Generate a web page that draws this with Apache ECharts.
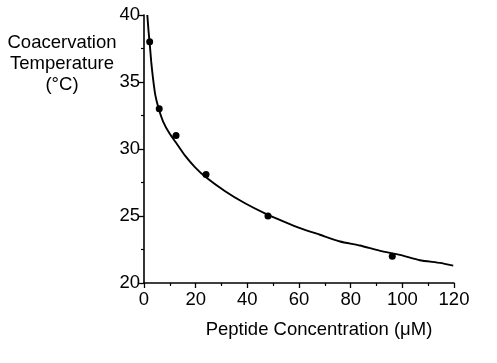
<!DOCTYPE html>
<html><head><meta charset="utf-8">
<script src="https://cdn.jsdelivr.net/npm/echarts@6/dist/echarts.min.js"></script>
<style>html,body{margin:0;padding:0;background:#fff}#c{width:497px;height:363px}</style>
</head><body><div id="c"></div>
<script>
const pointX = [2.2, 5.9, 12.4, 24.0, 48.0, 96.1];
const pointY = [38.0, 33.0, 31.0, 28.1, 25.0, 22.0];
const curveX = [1.28, 1.8, 2.2, 2.8, 3.5, 4.4, 5.7, 7.4, 9.9, 12.3, 15.9, 19.7, 23.6, 31.4, 39.1, 46.8, 54.6, 60.4, 68.1, 75.9, 83.6, 91.4, 99.1, 106.8, 114.6, 119.7];
const curveY = [40, 38.7, 37.9, 36.5, 35.25, 34.0, 33.0, 32.05, 31.15, 30.5, 29.5, 28.65, 27.95, 26.85, 25.95, 25.2, 24.55, 24.1, 23.6, 23.1, 22.8, 22.4, 22.1, 21.7, 21.5, 21.3];
const xTitle = 'Peptide Concentration (\u03bcM)';
const yTitle = 'Coacervation\nTemperature\n(\u00b0C)';

const font = 'Liberation Sans, Arial, Helvetica, sans-serif';
const chart = echarts.init(document.getElementById('c'), null, {renderer: 'canvas'});
chart.setOption({
  animation: false,
  backgroundColor: '#fff',
  grid: {left: 144, right: 43, top: 15, bottom: 80},
  xAxis: {
    type: 'value', min: 0, max: 120, interval: 20,
    axisLine: {lineStyle: {color: '#000', width: 1.6}},
    axisTick: {length: 5, lineStyle: {color: '#000', width: 1.3}},
    minorTick: {show: true, splitNumber: 2, length: 3, lineStyle: {color: '#000', width: 1.2}},
    axisLabel: {color: '#000', fontSize: 18.5, fontFamily: font, margin: 7},
    splitLine: {show: false}
  },
  yAxis: {
    type: 'value', min: 20, max: 40, interval: 5,
    axisLine: {lineStyle: {color: '#000', width: 1.6}},
    axisTick: {length: 5, lineStyle: {color: '#000', width: 1.3}},
    minorTick: {show: true, splitNumber: 2, length: 3, lineStyle: {color: '#000', width: 1.2}},
    axisLabel: {color: '#000', fontSize: 18.5, fontFamily: font, margin: 4},
    splitLine: {show: false}
  },
  graphic: [
    {type: 'text', x: 319, y: 320, style: {text: xTitle, fill: '#000', font: '18.5px ' + font, textAlign: 'center'}},
    {type: 'text', x: 62, y: 32, style: {text: yTitle, fill: '#000', font: '18.5px ' + font, textAlign: 'center', lineHeight: 21}}
  ],
  series: [
    {type: 'line', data: curveX.map((x, i) => [x, curveY[i]]), showSymbol: false, smooth: 0.2,
     lineStyle: {color: '#000', width: 1.9}, z: 2},
    {type: 'scatter', data: pointX.map((x, i) => [x, pointY[i]]), symbolSize: 7,
     itemStyle: {color: '#000', opacity: 1}, z: 3}
  ]
});
</script></body></html>
